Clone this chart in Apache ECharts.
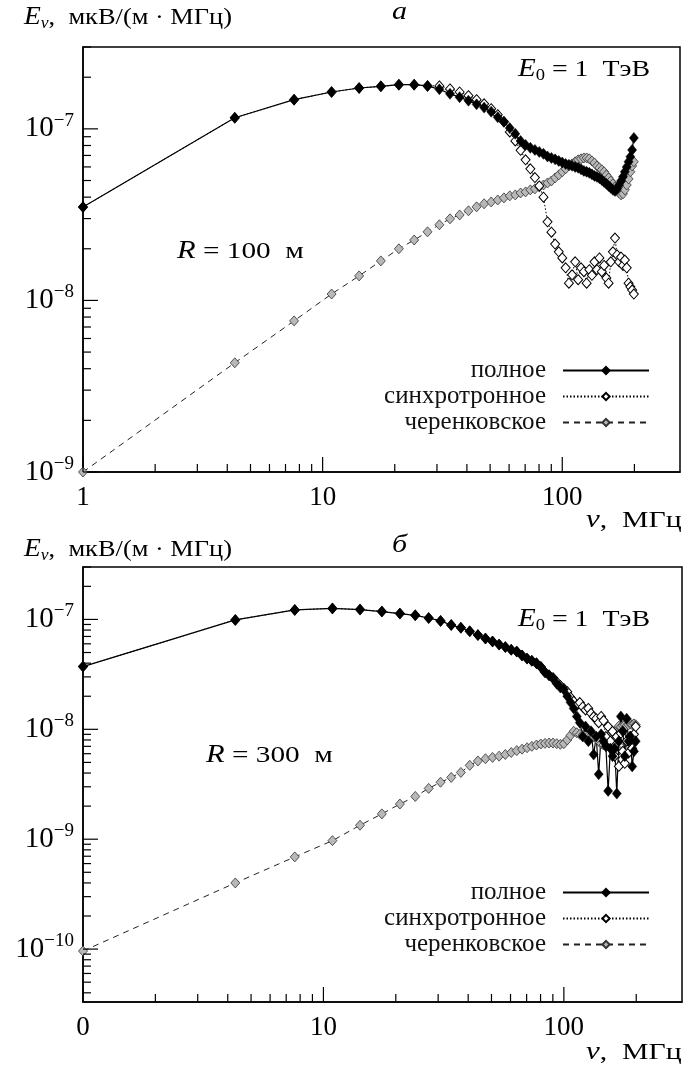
<!DOCTYPE html>
<html>
<head>
<meta charset="utf-8">
<script src="https://cdn.jsdelivr.net/npm/echarts@6/dist/echarts.min.js"></script>
<style>
html, body { margin: 0; padding: 0; background: #fff; }
#main { width: 697px; height: 1068px; }
</style>
</head>
<body>
<div id="main"></div>
<script>
// частоты, МГц
var freq = [1, 4.3, 7.6, 10.9, 14.2, 17.5, 20.8, 24.1, 27.4, 30.7, 34.0, 37.3, 40.6, 43.9, 47.2, 50.5,
	53.8, 57.1, 60.4, 63.7, 67.0, 70.3, 73.6, 76.9, 80.2, 83.5, 86.8, 90.1, 93.4, 96.7, 100.0,
	103.3, 106.6, 109.9, 113.2, 116.5, 119.8, 123.1, 126.4, 129.7, 133.0, 136.3, 139.6, 142.9, 146.2,
	149.5, 152.8, 156.1, 159.4, 162.7, 166.0, 169.3, 172.6, 175.9, 179.2, 182.5, 185.8, 189.1, 192.4,
	195.7, 199.0];

// панель а, R = 100 м
var topTotal = [3.5e-8, 1.16e-7, 1.48e-7, 1.64e-7, 1.73e-7, 1.77e-7, 1.81e-7, 1.81e-7, 1.78e-7, 1.70e-7,
	1.60e-7, 1.53e-7, 1.46e-7, 1.39e-7, 1.33e-7, 1.26e-7, 1.17e-7, 1.10e-7, 1.01e-7, 9.35e-8,
	8.5e-8, 8.06e-8, 7.75e-8, 7.54e-8, 7.34e-8, 7.15e-8, 6.9e-8, 6.77e-8, 6.64e-8, 6.5e-8,
	6.37e-8, 6.25e-8, 6.17e-8, 6.09e-8, 6.0e-8, 5.93e-8, 5.81e-8, 5.69e-8, 5.62e-8, 5.54e-8,
	5.43e-8, 5.32e-8, 5.25e-8, 5.15e-8, 5.04e-8, 4.9e-8, 4.78e-8, 4.65e-8, 4.53e-8, 4.41e-8,
	4.35e-8, 4.47e-8, 4.71e-8, 4.97e-8, 5.25e-8, 5.62e-8, 6.0e-8, 6.43e-8, 6.87e-8, 7.54e-8, 8.86e-8];
var topSynch = [3.5e-8, 1.16e-7, 1.48e-7, 1.64e-7, 1.73e-7, 1.77e-7, 1.81e-7, 1.81e-7, 1.78e-7, 1.78e-7,
	1.71e-7, 1.64e-7, 1.56e-7, 1.48e-7, 1.40e-7, 1.31e-7, 1.21e-7, 1.10e-7, 9.6e-8, 8.5e-8,
	7.5e-8, 6.6e-8, 5.85e-8, 5.2e-8, 4.65e-8, 4.0e-8, 2.87e-8, 2.5e-8, 2.13e-8, 1.92e-8,
	1.77e-8, 1.55e-8, 1.26e-8, 1.41e-8, 1.68e-8, 1.32e-8, 1.55e-8, 1.47e-8, 1.26e-8, 1.51e-8,
	1.40e-8, 1.68e-8, 1.51e-8, 1.77e-8, 1.47e-8, 1.6e-8, 1.35e-8, 1.26e-8, 1.68e-8, 1.92e-8,
	2.31e-8, 1.84e-8, 1.68e-8, 1.79e-8, 1.6e-8, 1.72e-8, 1.55e-8, 1.26e-8, 1.2e-8, 1.15e-8, 1.09e-8];
var topCher = [1.0e-9, 4.33e-9, 7.6e-9, 1.09e-8, 1.39e-8, 1.70e-8, 2.0e-8, 2.25e-8, 2.51e-8, 2.76e-8,
	2.99e-8, 3.15e-8, 3.33e-8, 3.51e-8, 3.66e-8, 3.75e-8, 3.85e-8, 3.96e-8, 4.07e-8, 4.12e-8,
	4.23e-8, 4.29e-8, 4.41e-8, 4.47e-8, 4.59e-8, 4.71e-8, 4.84e-8, 4.97e-8, 5.18e-8, 5.39e-8,
	5.62e-8, 5.85e-8, 6.08e-8, 6.25e-8, 6.43e-8, 6.6e-8, 6.69e-8, 6.77e-8, 6.77e-8, 6.69e-8,
	6.5e-8, 6.33e-8, 6.08e-8, 5.93e-8, 5.77e-8, 5.62e-8, 5.39e-8, 5.18e-8, 4.97e-8, 4.78e-8,
	4.59e-8, 4.41e-8, 4.23e-8, 4.12e-8, 4.18e-8, 4.41e-8, 4.71e-8, 5.11e-8, 5.62e-8, 6.08e-8, 6.43e-8];

// панель б, R = 300 м
var botTotal = [3.72e-8, 9.9e-8, 1.22e-7, 1.26e-7, 1.23e-7, 1.18e-7, 1.13e-7, 1.09e-7, 1.03e-7, 9.7e-8,
	8.9e-8, 8.4e-8, 7.8e-8, 7.2e-8, 6.7e-8, 6.3e-8, 5.9e-8, 5.6e-8, 5.3e-8, 5.1e-8,
	4.7e-8, 4.4e-8, 4.2e-8, 4.0e-8, 3.7e-8, 3.3e-8, 3.1e-8, 2.9e-8, 2.6e-8, 2.4e-8,
	2.3e-8, 2.0e-8, 1.76e-8, 1.55e-8, 1.31e-8, 1.15e-8, 8.6e-9, 1.06e-8, 7.8e-9, 9.6e-9,
	5.9e-9, 8.6e-9, 3.9e-9, 9.0e-9, 7.8e-9, 7.0e-9, 2.75e-9, 6.7e-9, 5.7e-9, 6.7e-9,
	2.6e-9, 7.8e-9, 1.31e-8, 9.6e-9, 5.7e-9, 1.25e-8, 7.8e-9, 8.6e-9, 4.6e-9, 6.3e-9, 7.8e-9];
var botSynch = [3.72e-8, 9.9e-8, 1.22e-7, 1.26e-7, 1.23e-7, 1.18e-7, 1.13e-7, 1.09e-7, 1.03e-7, 9.7e-8,
	8.9e-8, 8.4e-8, 7.8e-8, 7.2e-8, 6.7e-8, 6.3e-8, 5.9e-8, 5.6e-8, 5.3e-8, 5.1e-8,
	4.7e-8, 4.4e-8, 4.2e-8, 4.0e-8, 3.7e-8, 3.3e-8, 3.1e-8, 2.95e-8, 2.7e-8, 2.5e-8,
	2.35e-8, 2.2e-8, 1.95e-8, 1.8e-8, 1.65e-8, 1.75e-8, 1.6e-8, 1.5e-8, 1.55e-8, 1.4e-8,
	1.3e-8, 1.25e-8, 1.15e-8, 1.31e-8, 1.2e-8, 8.6e-9, 1.06e-8, 7.8e-9, 9.6e-9, 5.7e-9,
	8.6e-9, 4.6e-9, 9.2e-9, 6.3e-9, 4.9e-9, 7.8e-9, 6.1e-9, 8.6e-9, 6.7e-9, 9.0e-9, 1.06e-8];
var botCher = [9.6e-11, 4.0e-10, 6.9e-10, 9.7e-10, 1.34e-9, 1.7e-9, 2.09e-9, 2.45e-9, 2.9e-9, 3.3e-9,
	3.65e-9, 4.05e-9, 4.7e-9, 5.15e-9, 5.4e-9, 5.55e-9, 5.7e-9, 5.9e-9, 6.15e-9, 6.4e-9,
	6.6e-9, 6.8e-9, 7.0e-9, 7.2e-9, 7.35e-9, 7.45e-9, 7.5e-9, 7.5e-9, 7.4e-9, 7.3e-9,
	7.4e-9, 8.0e-9, 8.8e-9, 9.6e-9, 9.3e-9, 9.0e-9, 8.9e-9, 8.8e-9, 8.7e-9, 8.7e-9,
	8.6e-9, 8.3e-9, 7.8e-9, 7.4e-9, 7.2e-9, 7.6e-9, 8.3e-9, 9.0e-9, 9.5e-9, 9.2e-9,
	1.0e-8, 1.07e-8, 1.05e-8, 1.08e-8, 1.1e-8, 1.08e-8, 1.1e-8, 1.12e-8, 1.1e-8, 1.12e-8, 1.1e-8];

// деления осей
var xMajor = [1, 10, 100];
var xMinor = [2, 3, 4, 5, 6, 7, 8, 9, 20, 30, 40, 50, 60, 70, 80, 90, 200];
var topYMajor = [1e-9, 1e-8, 1e-7];
var topYMinor = [2e-9, 3e-9, 4e-9, 5e-9, 6e-9, 7e-9, 8e-9, 9e-9, 2e-8, 3e-8, 4e-8, 5e-8, 6e-8, 7e-8, 8e-8, 9e-8, 2e-7, 3e-7];
var botYMajor = [1e-10, 1e-9, 1e-8, 1e-7];
var botYMinor = [4e-11, 5e-11, 6e-11, 7e-11, 8e-11, 9e-11, 2e-10, 3e-10, 4e-10, 5e-10, 6e-10, 7e-10, 8e-10, 9e-10,
	2e-9, 3e-9, 4e-9, 5e-9, 6e-9, 7e-9, 8e-9, 9e-9, 2e-8, 3e-8, 4e-8, 5e-8, 6e-8, 7e-8, 8e-8, 9e-8, 2e-7, 3e-7];

var names = ['полное', 'синхротронное', 'черенковское'];
var serif = 'Liberation Serif';
var xMin = 1, xMax = 310;
var topYMin = 1e-9, topYMax = 3e-7;
var botYMin = 3.3e-11, botYMax = 3e-7;

function pairs(ys) {
	var out = [];
	for (var i = 0; i < freq.length; i++) {
		out.push([freq[i], ys[i]]);
	}
	return out;
}

function isPow10(v) {
	var l = Math.log(v) / Math.LN10;
	return Math.abs(l - Math.round(l)) < 1e-6;
}

function yLabel(v) {
	if (!isPow10(v)) return '';
	var e = Math.round(Math.log(v) / Math.LN10);
	return '{b|10}{s|−' + (-e) + '}';
}

// серии кривых для одной панели
function curveSeries(idx, total, synch, cher) {
	return [{
		name: names[2], type: 'line', xAxisIndex: idx, yAxisIndex: idx,
		data: pairs(cher), symbol: 'diamond', symbolSize: [9, 10],
		itemStyle: { color: '#b8b8b8', borderColor: '#333', borderWidth: 0.8 },
		lineStyle: { color: '#222', width: 1, type: [6, 5] },
		animation: false
	}, {
		name: names[1], type: 'line', xAxisIndex: idx, yAxisIndex: idx,
		data: pairs(synch), symbol: 'diamond', symbolSize: [9, 10],
		itemStyle: { color: '#fff', borderColor: '#000', borderWidth: 1 },
		lineStyle: { color: '#000', width: 1, type: [1.5, 2] },
		animation: false
	}, {
		name: names[0], type: 'line', xAxisIndex: idx, yAxisIndex: idx,
		data: pairs(total), symbol: 'diamond', symbolSize: [9, 11],
		itemStyle: { color: '#000', borderColor: '#000', borderWidth: 0.5 },
		lineStyle: { color: '#000', width: 1.2 },
		animation: false
	}];
}

// деления рисуются через координаты осей
function tickSeries(idx, vals, len, dir, fixed) {
	var data = vals.map(function (v) { return dir === 'x' ? [v, fixed] : [fixed, v]; });
	return {
		type: 'custom', xAxisIndex: idx, yAxisIndex: idx, silent: true, clip: false,
		animation: false, data: data, z: 5,
		renderItem: function (params, api) {
			var p = api.coord([api.value(0), api.value(1)]);
			var shape = dir === 'x'
				? { x1: p[0], y1: p[1], x2: p[0], y2: p[1] - len }
				: { x1: p[0], y1: p[1], x2: p[0] + len, y2: p[1] };
			return { type: 'line', shape: shape, style: { stroke: '#000', lineWidth: 1.2 } };
		}
	};
}

function xAxisCfg(idx, firstLabel) {
	return {
		type: 'log', logBase: 10, gridIndex: idx, min: xMin, max: xMax,
		axisLine: { lineStyle: { color: '#000', width: 1.5 } },
		axisTick: { show: false },
		splitLine: { show: false },
		axisLabel: {
			color: '#000', fontFamily: serif, fontSize: 27, margin: 12,
			formatter: function (v) {
				if (!isPow10(v)) return '';
				var r = Math.round(v);
				return r === 1 ? firstLabel : String(r);
			}
		}
	};
}

function yAxisCfg(idx, mn, mx) {
	return {
		type: 'log', logBase: 10, gridIndex: idx, min: mn, max: mx,
		axisLine: { lineStyle: { color: '#000', width: 1.5 } },
		axisTick: { show: false },
		splitLine: { show: false },
		axisLabel: {
			color: '#000', fontFamily: serif, margin: 9,
			formatter: yLabel,
			rich: {
				b: { fontSize: 29, fontFamily: serif, color: '#000' },
				s: { fontSize: 19, fontFamily: serif, color: '#000', verticalAlign: 'bottom', padding: [0, 0, 16, 0] }
			}
		}
	};
}

function legendCfg(top) {
	return {
		data: names, orient: 'vertical', right: 45, top: top, align: 'right',
		itemWidth: 86, itemHeight: 9, itemGap: 1, selectedMode: false,
		backgroundColor: '#fff', padding: [4, 2, 4, 14],
		textStyle: { fontFamily: serif, fontSize: 25, color: '#111', width: 200, align: 'right', padding: [0, 12, 0, 0] }
	};
}

var richTitle = {
	i: { fontFamily: serif, fontStyle: 'italic', fontSize: 25 },
	sub: { fontFamily: serif, fontSize: 16, verticalAlign: 'top', padding: [13, 0, 0, 0] },
	isub: { fontFamily: serif, fontStyle: 'italic', fontSize: 16, verticalAlign: 'top', padding: [13, 0, 0, 0] },
	t: { fontFamily: serif, fontSize: 24 }
};

function text(x, y, sx, str) {
	return {
		type: 'text', x: x, y: y, scaleX: sx, scaleY: 1,
		style: { text: str, rich: richTitle, fill: '#000' }
	};
}

var chart = echarts.init(document.getElementById('main'));
var option = {
	backgroundColor: '#fff',
	animation: false,
	grid: [
		{ left: 83, right: 17, top: 47, height: 425, show: true, borderColor: '#000', borderWidth: 1.5 },
		{ left: 83, right: 15, top: 567, height: 435, show: true, borderColor: '#000', borderWidth: 1.5 }
	],
	xAxis: [xAxisCfg(0, '1'), xAxisCfg(1, '0')],
	yAxis: [yAxisCfg(0, topYMin, topYMax), yAxisCfg(1, botYMin, botYMax)],
	legend: [legendCfg(354), legendCfg(876)],
	graphic: [
		text(24, 3, 1.1, '{i|E}{isub|ν}{t|,  мкВ/(м · МГц)}'),
		text(392, 0, 1.2, '{i|а}'),
		text(518, 55, 1.16, '{i|E}{sub|0}{t| = 1  ТэВ}'),
		text(177, 239, 1.22, '{i|R}{t| = 100  м}'),
		text(586, 508, 1.24, '{i|ν}{t|,  МГц}'),
		text(24, 535, 1.1, '{i|E}{isub|ν}{t|,  мкВ/(м · МГц)}'),
		text(392, 533, 1.2, '{i|б}'),
		text(518, 605, 1.16, '{i|E}{sub|0}{t| = 1  ТэВ}'),
		text(206, 743, 1.22, '{i|R}{t| = 300  м}'),
		text(586, 1040, 1.24, '{i|ν}{t|,  МГц}')
	],
	series: [].concat(
		curveSeries(0, topTotal, topSynch, topCher),
		curveSeries(1, botTotal, botSynch, botCher),
		[
			tickSeries(0, xMajor, 15, 'x', topYMin), tickSeries(0, xMinor, 8, 'x', topYMin),
			tickSeries(0, topYMajor, 15, 'y', xMin), tickSeries(0, topYMinor, 8, 'y', xMin),
			tickSeries(1, xMajor, 15, 'x', botYMin), tickSeries(1, xMinor, 8, 'x', botYMin),
			tickSeries(1, botYMajor, 15, 'y', xMin), tickSeries(1, botYMinor, 8, 'y', xMin)
		]
	)
};
chart.setOption(option);
</script>
</body>
</html>
